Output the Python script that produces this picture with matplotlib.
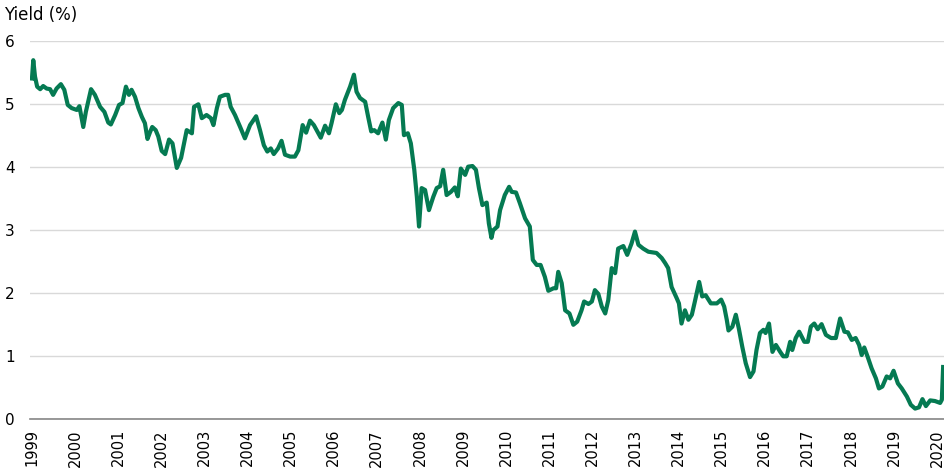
import matplotlib
matplotlib.use("Agg")
import matplotlib.pyplot as plt

# Decimal-year dates and yield values (%)
dates = [
    1999.00, 1999.03, 1999.07, 1999.12, 1999.19, 1999.26, 1999.34, 1999.42, 1999.49, 1999.57,
    1999.67, 1999.75, 1999.83, 1999.92, 2000.04, 2000.10, 2000.19, 2000.25, 2000.37, 2000.46,
    2000.58, 2000.68, 2000.77, 2000.83, 2000.93, 2001.02, 2001.10, 2001.18, 2001.25, 2001.31,
    2001.39, 2001.47, 2001.55, 2001.62, 2001.68, 2001.74, 2001.79, 2001.87, 2001.93, 2002.01,
    2002.09, 2002.18, 2002.26, 2002.36, 2002.46, 2002.55, 2002.59, 2002.71, 2002.76, 2002.86,
    2002.94, 2003.05, 2003.15, 2003.21, 2003.29, 2003.36, 2003.48, 2003.55, 2003.61, 2003.71,
    2003.83, 2003.94, 2004.06, 2004.20, 2004.29, 2004.38, 2004.46, 2004.54, 2004.61, 2004.71,
    2004.79, 2004.87, 2004.99, 2005.10, 2005.18, 2005.28, 2005.36, 2005.45, 2005.54, 2005.70,
    2005.80, 2005.89, 2005.95, 2006.05, 2006.13, 2006.19, 2006.26, 2006.38, 2006.47, 2006.53,
    2006.61, 2006.73, 2006.80, 2006.87, 2006.94, 2007.03, 2007.13, 2007.21, 2007.28, 2007.38,
    2007.50, 2007.58, 2007.63, 2007.72, 2007.79, 2007.87, 2007.93, 2007.98, 2008.04, 2008.12,
    2008.21, 2008.31, 2008.39, 2008.47, 2008.54, 2008.62, 2008.72, 2008.81, 2008.88, 2008.95,
    2009.05, 2009.12, 2009.22, 2009.30, 2009.37, 2009.45, 2009.55, 2009.60, 2009.66, 2009.70,
    2009.80, 2009.86, 2009.97, 2010.07, 2010.13, 2010.23, 2010.32, 2010.44, 2010.55, 2010.62,
    2010.71, 2010.80, 2010.90, 2010.98, 2011.10, 2011.16, 2011.21, 2011.29, 2011.37, 2011.47,
    2011.56, 2011.65, 2011.75, 2011.81, 2011.91, 2011.99, 2012.06, 2012.14, 2012.22, 2012.30,
    2012.37, 2012.45, 2012.53, 2012.60, 2012.72, 2012.81, 2012.91, 2012.99, 2013.07, 2013.18,
    2013.30, 2013.49, 2013.61, 2013.69, 2013.76, 2013.84, 2013.96, 2014.01, 2014.07, 2014.15,
    2014.23, 2014.31, 2014.38, 2014.48, 2014.55, 2014.63, 2014.75, 2014.89, 2014.99, 2015.06,
    2015.12, 2015.16, 2015.25, 2015.33, 2015.40, 2015.48, 2015.56, 2015.66, 2015.74, 2015.81,
    2015.89, 2015.97, 2016.02, 2016.10, 2016.18, 2016.26, 2016.36, 2016.43, 2016.51, 2016.59,
    2016.64, 2016.72, 2016.80, 2016.92, 2017.00, 2017.07, 2017.15, 2017.23, 2017.32, 2017.42,
    2017.54, 2017.65, 2017.75, 2017.85, 2017.93, 2018.02, 2018.11, 2018.19, 2018.25, 2018.31,
    2018.39, 2018.48, 2018.58, 2018.65, 2018.73, 2018.83, 2018.91, 2018.99, 2019.09, 2019.18,
    2019.30, 2019.39, 2019.49, 2019.58, 2019.66, 2019.74, 2019.84, 2019.95, 2020.07, 2020.11,
    2020.14,
]
yields = [
    5.41, 5.70, 5.44, 5.28, 5.24, 5.29, 5.25, 5.24, 5.15, 5.25,
    5.32, 5.23, 4.99, 4.94, 4.91, 4.97, 4.64, 4.88, 5.24, 5.15,
    4.96, 4.88, 4.71, 4.68, 4.83, 4.99, 5.02, 5.28, 5.15, 5.23,
    5.12, 4.94, 4.80, 4.70, 4.45, 4.56, 4.64, 4.59, 4.49, 4.26,
    4.21, 4.44, 4.38, 3.99, 4.15, 4.45, 4.59, 4.54, 4.96, 5.00,
    4.78, 4.83, 4.78, 4.67, 4.94, 5.12, 5.15, 5.15, 4.96, 4.83,
    4.64, 4.46, 4.67, 4.81, 4.59, 4.35, 4.25, 4.30, 4.21, 4.30,
    4.42, 4.20, 4.17, 4.17, 4.27, 4.67, 4.55, 4.74, 4.67, 4.47,
    4.66, 4.54, 4.70, 5.00, 4.86, 4.91, 5.07, 5.28, 5.47, 5.20,
    5.10, 5.04, 4.80, 4.57, 4.59, 4.54, 4.71, 4.44, 4.75, 4.94,
    5.02, 4.99, 4.51, 4.54, 4.38, 3.96, 3.53, 3.06, 3.67, 3.64,
    3.32, 3.53, 3.67, 3.70, 3.96, 3.56, 3.61, 3.68, 3.54, 3.98,
    3.88, 4.01, 4.02, 3.96, 3.67, 3.40, 3.44, 3.11, 2.88, 3.00,
    3.06, 3.32, 3.56, 3.69, 3.61, 3.60, 3.43, 3.19, 3.06, 2.53,
    2.45, 2.45, 2.26, 2.04, 2.08, 2.08, 2.34, 2.16, 1.73, 1.68,
    1.50, 1.55, 1.73, 1.87, 1.83, 1.87, 2.05, 1.99, 1.79, 1.68,
    1.89, 2.40, 2.32, 2.71, 2.75, 2.61, 2.79, 2.98, 2.77, 2.71,
    2.66, 2.64, 2.56, 2.48, 2.40, 2.10, 1.92, 1.84, 1.52, 1.73,
    1.58, 1.66, 1.87, 2.18, 1.95, 1.97, 1.84, 1.84, 1.90, 1.79,
    1.58, 1.41, 1.47, 1.66, 1.44, 1.15, 0.89, 0.67, 0.76, 1.10,
    1.37, 1.42, 1.37, 1.52, 1.07, 1.18, 1.07, 1.00, 1.00, 1.23,
    1.10, 1.29, 1.39, 1.23, 1.23, 1.47, 1.52, 1.43, 1.51, 1.34,
    1.29, 1.29, 1.60, 1.39, 1.38, 1.26, 1.29, 1.18, 1.02, 1.14,
    0.99, 0.81, 0.65, 0.49, 0.52, 0.68, 0.65, 0.77, 0.57, 0.49,
    0.36, 0.23, 0.17, 0.19, 0.32, 0.21, 0.30, 0.29, 0.26, 0.31,
    0.83,
]
year_ticks = list(range(1999, 2021))
y_ticks = [0, 1, 2, 3, 4, 5, 6]
y_title = "Yield (%)"

fig = plt.figure(figsize=(9.45, 4.73), dpi=100)
ax = fig.add_axes([30 / 945, 1 - 419.3 / 473, 914 / 945, 378 / 473])

ax.plot(dates, yields, color="#057a52", lw=3.0, solid_joinstyle="round")

ax.set_xlim(1998.954, 2020.16)
ax.set_ylim(0, 6)
ax.set_yticks(y_ticks)
ax.set_xticks(year_ticks)
ax.set_xticklabels([str(y) for y in year_ticks], rotation=90, fontsize=10.5)
ax.tick_params(axis="y", length=0, pad=18, labelsize=11)
ax.tick_params(axis="x", length=0, pad=7)
ax.grid(axis="y", color="#d9d9d9", lw=1)
ax.set_axisbelow(True)
for s in ["left", "right", "top"]:
    ax.spines[s].set_visible(False)
ax.spines["bottom"].set_color("#868686")
ax.spines["bottom"].set_linewidth(1.2)
for lab in ax.get_yticklabels():
    lab.set_horizontalalignment("left")

fig.text(4 / 945, 1 - 15 / 473, y_title, fontsize=12, va="center", ha="left")

fig.savefig("out.png", dpi=100)
